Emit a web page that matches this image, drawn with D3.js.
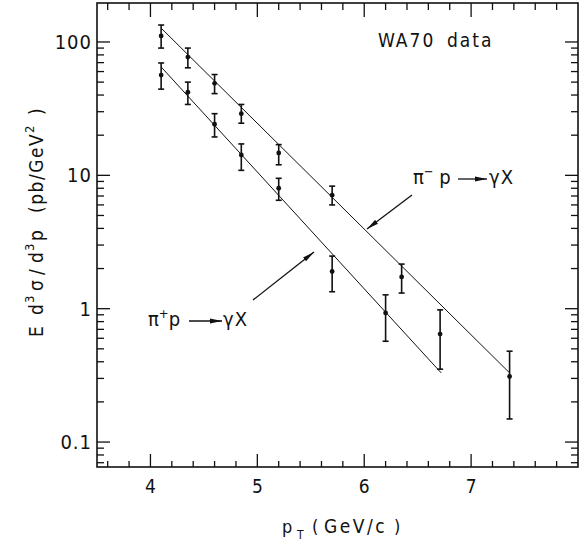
<!DOCTYPE html>
<html><head><meta charset="utf-8">
<script src="https://cdn.jsdelivr.net/npm/d3@7"></script>
<style>
body{margin:0;background:#fff;}
text{font-family:"DejaVu Sans Condensed","DejaVu Sans",sans-serif;fill:#111;}
</style></head>
<body><svg id="c" width="584" height="550"></svg>
<script>
// pi- p -> gamma X
const piMinusPt  = [4.1, 4.35, 4.6, 4.85, 5.2, 5.7, 6.35, 7.36];
const piMinusVal = [111, 77, 49, 29, 14.7, 7.1, 1.73, 0.31];
const piMinusLo  = [90, 64, 41, 24.6, 12, 6.0, 1.31, 0.149];
const piMinusHi  = [134, 90, 57, 34, 17, 8.3, 2.16, 0.48];
// pi+ p -> gamma X
const piPlusPt  = [4.1, 4.35, 4.6, 4.85, 5.2, 5.7, 6.2, 6.71];
const piPlusVal = [56.5, 42, 24.2, 14.2, 8.0, 1.9, 0.93, 0.645];
const piPlusLo  = [44.3, 34, 19.4, 10.9, 6.5, 1.34, 0.57, 0.352];
const piPlusHi  = [69.6, 50, 29, 17.2, 9.5, 2.48, 1.27, 0.98];
// fitted exponential lines (end points)
const piMinusFit = [[4.1, 127], [7.36, 0.33]];
const piPlusFit  = [[4.1, 65], [6.72, 0.33]];
// axis ticks
const xMajor = [4, 5, 6, 7];
const xMajorLabels = ["4", "5", "6", "7"];
const yMajor = [0.1, 1, 10, 100];
const yMajorLabels = ["0.1", "1", "10", "100"];

const svg = d3.select("#c");
const L = 97, R = 578, T = 3, B = 467;
const x = d3.scaleLinear().domain([3.5, 8]).range([L, R]);
const y = d3.scaleLog().domain([0.065, 196]).range([B, T]);

// frame
svg.append("rect").attr("x", L).attr("y", T).attr("width", R - L).attr("height", B - T)
  .attr("fill", "none").attr("stroke", "#111").attr("stroke-width", 1.6);

// x ticks (bottom & top)
const xMinor = d3.range(3.6, 8.0, 0.2).map(v => +v.toFixed(1)).filter(v => !xMajor.includes(v));
const tickG = svg.append("g").attr("stroke", "#111").attr("stroke-width", 1.3);
xMajor.forEach(v => {
  tickG.append("line").attr("x1", x(v)).attr("x2", x(v)).attr("y1", B).attr("y2", B - 13);
  tickG.append("line").attr("x1", x(v)).attr("x2", x(v)).attr("y1", T).attr("y2", T + 14);
});
xMinor.forEach(v => {
  tickG.append("line").attr("x1", x(v)).attr("x2", x(v)).attr("y1", B).attr("y2", B - 6);
  tickG.append("line").attr("x1", x(v)).attr("x2", x(v)).attr("y1", T).attr("y2", T + 7);
});
// y ticks (left & right)
const yMinor = [];
[0.01, 0.1, 1, 10, 100].forEach(d => { for (let k = 2; k <= 9; k++) yMinor.push(d * k); });
const yMinorIn = yMinor.filter(v => v > 0.065 && v < 196);
yMajor.forEach(v => {
  tickG.append("line").attr("x1", L).attr("x2", L + 13).attr("y1", y(v)).attr("y2", y(v));
  tickG.append("line").attr("x1", R).attr("x2", R - 13).attr("y1", y(v)).attr("y2", y(v));
});
yMinorIn.forEach(v => {
  tickG.append("line").attr("x1", L).attr("x2", L + 7).attr("y1", y(v)).attr("y2", y(v));
  tickG.append("line").attr("x1", R).attr("x2", R - 7).attr("y1", y(v)).attr("y2", y(v));
});

// tick labels
xMajor.forEach((v, i) => {
  svg.append("text").attr("x", x(v)).attr("y", 493).attr("text-anchor", "middle")
    .attr("font-size", 19).text(xMajorLabels[i]);
});
yMajor.forEach((v, i) => {
  svg.append("text").attr("x", 92).attr("y", y(v) + 7).attr("text-anchor", "end")
    .attr("font-size", 20).attr("letter-spacing", 1).text(yMajorLabels[i]);
});

// x axis title
const xt = svg.append("text").attr("y", 533).attr("font-size", 18);
xt.append("tspan").attr("x", 282).text("p");
xt.append("tspan").attr("x", 297).attr("font-size", 12).attr("dy", 6).text("T");
xt.append("tspan").attr("x", 312).attr("dy", -6).text("(");
xt.append("tspan").attr("x", 324).attr("font-size", 19).attr("letter-spacing", 2.5).text("GeV/c");
xt.append("tspan").attr("x", 394).text(")");

// y axis title (rotated; x offsets measured from the bottom end)
const yt = svg.append("text").attr("transform", "translate(43,337) rotate(-90)").attr("font-size", 19);
const ypieces = [
  ["E", 0, 0, 19], ["d", 22, 0, 19], ["3", 34, -9, 13], ["σ", 46, 0, 19],
  ["/", 62, 0, 19], ["d", 74, 0, 19], ["3", 86, -9, 13], ["p", 96, 0, 19],
  ["(pb/GeV", 124, 0, 19], ["2", 204, -9, 13], [")", 222, 0, 19]
];
ypieces.forEach(p => {
  yt.append("tspan").attr("x", p[1]).attr("y", p[2]).attr("font-size", p[3])
    .attr("letter-spacing", p[0].length > 1 ? 1.5 : 0).text(p[0]);
});

// fit lines
const line = d3.line().x(d => x(d[0])).y(d => y(d[1]));
[piMinusFit, piPlusFit].forEach(f => {
  svg.append("path").attr("d", line(f)).attr("fill", "none").attr("stroke", "#111").attr("stroke-width", 1);
});

// data with error bars
function drawSeries(pt, val, lo, hi) {
  const g = svg.append("g");
  pt.forEach((p, i) => {
    const cx = x(p);
    g.append("line").attr("x1", cx).attr("x2", cx).attr("y1", y(lo[i])).attr("y2", y(hi[i]))
      .attr("stroke", "#111").attr("stroke-width", 1.6);
    [lo[i], hi[i]].forEach(v => {
      g.append("line").attr("x1", cx - 3).attr("x2", cx + 3).attr("y1", y(v)).attr("y2", y(v))
        .attr("stroke", "#111").attr("stroke-width", 1.6);
    });
    g.append("circle").attr("cx", cx).attr("cy", y(val[i])).attr("r", 2.4).attr("fill", "#111");
  });
}
drawSeries(piMinusPt, piMinusVal, piMinusLo, piMinusHi);
drawSeries(piPlusPt, piPlusVal, piPlusLo, piPlusHi);

// arrow marker
const defs = svg.append("defs");
defs.append("marker").attr("id", "ah").attr("viewBox", "0 0 12 6").attr("refX", 12).attr("refY", 3)
  .attr("markerWidth", 12).attr("markerHeight", 6).attr("markerUnits", "userSpaceOnUse")
  .attr("orient", "auto")
  .append("path").attr("d", "M0,0.6 L12,3 L0,5.4 Z").attr("fill", "#111");

function arrow(x1, y1, x2, y2) {
  svg.append("line").attr("x1", x1).attr("y1", y1).attr("x2", x2).attr("y2", y2)
    .attr("stroke", "#111").attr("stroke-width", 1.3).attr("marker-end", "url(#ah)");
}

// annotations
const wa = svg.append("text").attr("y", 47).attr("font-size", 19).attr("letter-spacing", 2);
wa.append("tspan").attr("x", 378).text("WA70");
wa.append("tspan").attr("x", 447).text("data");

const t1 = svg.append("text").attr("x", 413).attr("y", 184).attr("font-size", 20);
t1.append("tspan").text("π");
t1.append("tspan").attr("font-size", 13).attr("dy", -8).text("−");
t1.append("tspan").attr("dy", 8).text(" p");
arrow(458, 179, 487, 179);
svg.append("text").attr("x", 489).attr("y", 184).attr("font-size", 20).attr("letter-spacing", 1).text("γX");
arrow(412, 195, 367, 229);

const t2 = svg.append("text").attr("x", 148).attr("y", 326).attr("font-size", 20);
t2.append("tspan").text("π");
t2.append("tspan").attr("font-size", 13).attr("dy", -8).text("+");
t2.append("tspan").attr("dy", 8).text("p");
arrow(189, 321, 222, 321);
svg.append("text").attr("x", 223).attr("y", 326).attr("font-size", 20).attr("letter-spacing", 1).text("γX");
arrow(253, 300, 314, 252);
</script></body></html>
